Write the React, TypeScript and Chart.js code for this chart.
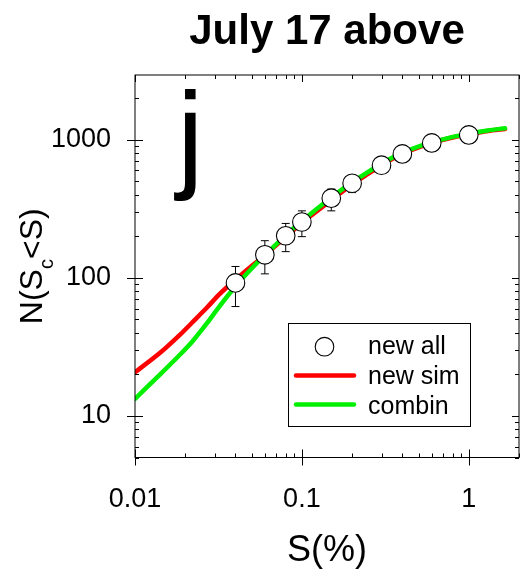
import React, { useEffect, useRef } from "react";
import { Chart, registerables } from "chart.js";

Chart.register(...registerables);

const chartTitle = "July 17 above";
const panelLetter = "j";
const xTitle = "S(%)";
const yTitleMain1 = "N(S";
const yTitleSub = "c";
const yTitleMain2 = "<S)";

const xTickValues = [0.01, 0.1, 1];
const yTickValues = [10, 100, 1000];
const xMin = 0.01;
const xMax = 2;
const yMin = 5;
const yMax = 2950;

// observations ("new all") with error bars
const obsS = [0.04, 0.06, 0.08, 0.1, 0.15, 0.2, 0.3, 0.4, 0.6, 1.0];
const obsN = [92, 147, 202, 254, 378, 485, 655, 791, 950, 1086];
const obsLow = [62, 107, 155, 199, 306, 415, 600, 740, 900, 1040];
const obsHigh = [121, 186, 248, 306, 440, 545, 715, 850, 1010, 1140];

// curves
const curveS = [0.01, 0.0142, 0.0187, 0.022, 0.027, 0.032, 0.04, 0.05, 0.06, 0.08, 0.1, 0.15, 0.2, 0.3, 0.4, 0.6, 0.8, 1.0, 1.3, 1.65];
const newSim = [20.7, 28.8, 39, 47.5, 61, 76, 97, 122, 146, 198, 250, 365, 475, 655, 790, 950, 1040, 1100, 1160, 1200];
const combin = [13.3, 20.1, 28, 34.5, 47, 62, 87, 117, 146, 203, 258, 382, 492, 672, 805, 962, 1050, 1110, 1170, 1215];

const FONT = "'Liberation Sans', Arial, Helvetica, sans-serif";
const RED = "#ff0000";
const GREEN = "#00f000";

const decorPlugin = {
  id: "decor",
  beforeDatasetDraw(chart: any, args: any) {
    const ds = chart.data.datasets[args.index];
    if (!ds.isObs) return;
    const ctx = chart.ctx;
    const xs = chart.scales.x;
    const ys = chart.scales.y;
    ctx.save();
    ctx.strokeStyle = "#000";
    ctx.lineWidth = 1;
    for (let i = 0; i < obsS.length; i++) {
      const px = xs.getPixelForValue(obsS[i]);
      const pLo = ys.getPixelForValue(obsLow[i]);
      const pHi = ys.getPixelForValue(obsHigh[i]);
      ctx.beginPath();
      ctx.moveTo(px, pLo);
      ctx.lineTo(px, pHi);
      ctx.moveTo(px - 4, pLo);
      ctx.lineTo(px + 4, pLo);
      ctx.moveTo(px - 4, pHi);
      ctx.lineTo(px + 4, pHi);
      ctx.stroke();
    }
    ctx.restore();
  },
  afterDraw(chart: any) {
    const ctx = chart.ctx;
    const a = chart.chartArea;
    const xs = chart.scales.x;
    const ys = chart.scales.y;
    ctx.save();
    // frame
    ctx.strokeStyle = "#000";
    ctx.lineWidth = 1;
    ctx.strokeRect(a.left, a.top, a.right - a.left, a.bottom - a.top);

    const line = (x1: number, y1: number, x2: number, y2: number) => {
      ctx.beginPath();
      ctx.moveTo(x1, y1);
      ctx.lineTo(x2, y2);
      ctx.stroke();
    };
    // x ticks
    for (let d = -2; d <= 0; d++) {
      for (let m = 1; m <= 9; m++) {
        const v = m * Math.pow(10, d);
        if (v < xMin - 1e-12 || v > xMax) continue;
        const px = Math.round(xs.getPixelForValue(v)) + 0.5;
        if (m === 1) {
          line(px, a.bottom - 8, px, a.bottom + 8);
          line(px, a.top, px, a.top + 7);
        } else {
          line(px, a.bottom - 4, px, a.bottom);
          line(px, a.top, px, a.top + 4);
        }
      }
    }
    // y ticks
    for (let d = 0; d <= 3; d++) {
      for (let m = 1; m <= 9; m++) {
        const v = m * Math.pow(10, d);
        if (v < yMin || v > yMax) continue;
        const py = Math.round(ys.getPixelForValue(v)) + 0.5;
        if (m === 1) {
          line(a.left - 8, py, a.left + 8, py);
          line(a.right - 7, py, a.right, py);
        } else {
          line(a.left, py, a.left + 4, py);
          line(a.right - 4, py, a.right, py);
        }
      }
    }

    const cx = (a.left + a.right) / 2;
    ctx.fillStyle = "#000";
    // title
    ctx.font = `bold 42px ${FONT}`;
    ctx.textAlign = "center";
    ctx.textBaseline = "alphabetic";
    ctx.fillText(chartTitle, cx, 43.5);

    // x title
    ctx.font = `36px ${FONT}`;
    ctx.fillText(xTitle, cx, 561);

    // panel letter
    ctx.font = `120px ${FONT}`;
    ctx.textAlign = "left";
    ctx.fillText(panelLetter, 177, 176);

    // y title with subscript
    const cy = (a.top + a.bottom) / 2;
    ctx.save();
    ctx.translate(41.5, cy);
    ctx.rotate(-Math.PI / 2);
    ctx.font = `32px ${FONT}`;
    const w1 = ctx.measureText(yTitleMain1).width;
    const w3 = ctx.measureText(yTitleMain2).width;
    ctx.font = `20px ${FONT}`;
    const w2 = ctx.measureText(yTitleSub).width;
    let sx = -(w1 + w2 + w3) / 2;
    ctx.textAlign = "left";
    ctx.font = `32px ${FONT}`;
    ctx.fillText(yTitleMain1, sx, 0);
    sx += w1;
    ctx.font = `20px ${FONT}`;
    ctx.fillText(yTitleSub, sx, 11);
    sx += w2;
    ctx.font = `32px ${FONT}`;
    ctx.fillText(yTitleMain2, sx, 0);
    ctx.restore();

    // legend
    const bx = 288.5, by = 323.5, bw = 182, bh = 103;
    ctx.fillStyle = "#fff";
    ctx.fillRect(bx, by, bw, bh);
    ctx.strokeStyle = "#000";
    ctx.lineWidth = 1;
    ctx.strokeRect(bx, by, bw, bh);
    const dsets = chart.data.datasets;
    const obs = dsets.find((d: any) => d.isObs);
    const lines = dsets.filter((d: any) => !d.isObs);
    const rows = [obs, ...lines];
    const rowY = [346.7, 375.5, 404.5];
    const textBase = [353.5, 383.5, 413.5];
    rows.forEach((d: any, i: number) => {
      if (d.isObs) {
        ctx.beginPath();
        ctx.arc(324.5, rowY[i], d.pointRadius, 0, Math.PI * 2);
        ctx.fillStyle = d.backgroundColor;
        ctx.fill();
        ctx.lineWidth = d.borderWidth;
        ctx.strokeStyle = d.borderColor;
        ctx.stroke();
      } else {
        ctx.beginPath();
        ctx.moveTo(296, rowY[i]);
        ctx.lineTo(354, rowY[i]);
        ctx.lineWidth = d.borderWidth;
        ctx.strokeStyle = d.borderColor;
        ctx.lineCap = "round";
        ctx.stroke();
      }
      ctx.fillStyle = "#000";
      ctx.font = `25px ${FONT}`;
      ctx.textAlign = "left";
      ctx.fillText(d.label, 368, textBase[i]);
    });
    ctx.restore();
  },
};

export default function App() {
  const ref = useRef<HTMLCanvasElement | null>(null);
  useEffect(() => {
    if (!ref.current) return;
    const chart = new Chart(ref.current, {
      type: "line",
      data: {
        datasets: [
          {
            label: "new all",
            isObs: true,
            data: obsS.map((s, i) => ({ x: s, y: obsN[i] })),
            showLine: false,
            pointRadius: 9.3,
            pointHoverRadius: 9.3,
            backgroundColor: "#ffffff",
            borderColor: "#000000",
            borderWidth: 1.1,
            order: 0,
          } as any,
          {
            label: "new sim",
            data: curveS.map((s, i) => ({ x: s, y: newSim[i] })),
            borderColor: RED,
            backgroundColor: RED,
            borderWidth: 4.5,
            pointRadius: 0,
            tension: 0.3,
            borderCapStyle: "round",
            order: 2,
          },
          {
            label: "combin",
            data: curveS.map((s, i) => ({ x: s, y: combin[i] })),
            borderColor: GREEN,
            backgroundColor: GREEN,
            borderWidth: 4.5,
            pointRadius: 0,
            tension: 0.3,
            borderCapStyle: "round",
            order: 1,
          },
        ],
      },
      options: {
        responsive: false,
        animation: false,
        events: [],
        layout: { autoPadding: false, padding: { top: 75, right: 3, left: 0, bottom: 0 } },
        plugins: {
          legend: { display: false },
          title: { display: false },
          tooltip: { enabled: false },
        },
        scales: {
          x: {
            type: "logarithmic",
            min: xMin,
            max: xMax,
            grid: { display: false, drawTicks: false },
            border: { display: false },
            ticks: {
              color: "#000",
              font: { family: FONT, size: 27 },
              padding: 26,
              maxRotation: 0,
              autoSkip: false,
              callback: (v: any) => String(v),
            },
            afterBuildTicks: (s: any) => {
              s.ticks = xTickValues.map((v) => ({ value: v }));
            },
            afterFit: (s: any) => {
              s.height = 113.5;
              s.paddingLeft = 0;
              s.paddingRight = 0;
            },
          },
          y: {
            type: "logarithmic",
            min: yMin,
            max: yMax,
            grid: { display: false, drawTicks: false },
            border: { display: false },
            ticks: {
              color: "#000",
              font: { family: FONT, size: 27 },
              padding: 24,
              autoSkip: false,
              callback: (v: any) => String(v),
            },
            afterBuildTicks: (s: any) => {
              s.ticks = yTickValues.map((v) => ({ value: v }));
            },
            afterFit: (s: any) => {
              s.width = 135;
              s.paddingTop = 0;
              s.paddingBottom = 0;
            },
          },
        },
      } as any,
      plugins: [decorPlugin],
    });
    return () => chart.destroy();
  }, []);
  return (
    <div style={{ position: "absolute", left: 0, top: 0, width: 522, height: 571, background: "#fff" }}>
      <canvas ref={ref} width={522} height={571} style={{ display: "block" }} />
    </div>
  );
}
